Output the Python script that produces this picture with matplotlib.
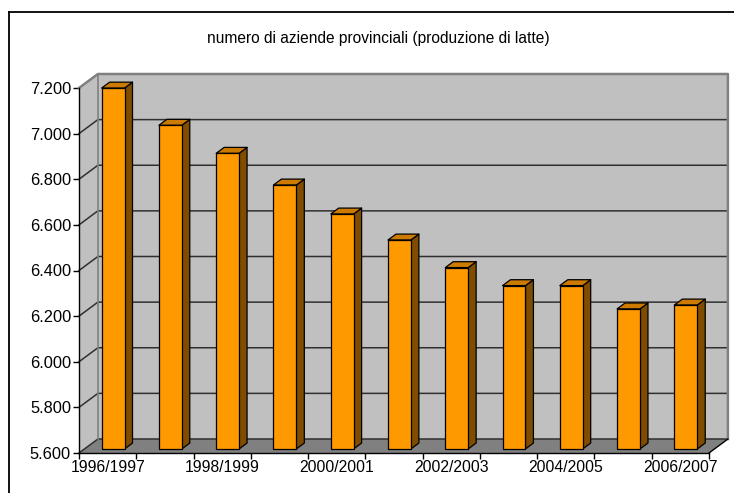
import matplotlib
matplotlib.use("Agg")
import matplotlib.pyplot as plt
from matplotlib.patches import Polygon
from matplotlib.lines import Line2D
from matplotlib.ticker import FuncFormatter

plt.rcParams['font.family'] = ['Liberation Sans', 'DejaVu Sans']

# Data: number of provincial dairy farms per season
seasons = ["1996/1997", "1997/1998", "1998/1999", "1999/2000", "2000/2001",
           "2001/2002", "2002/2003", "2003/2004", "2004/2005", "2005/2006",
           "2006/2007"]
farms = [7182, 7019, 6896, 6757, 6630, 6516, 6395, 6316, 6316, 6214, 6231]
title = "numero di aziende provinciali (produzione di latte)"

y_min, y_max, y_step = 5600, 7200, 200

fig = plt.figure(figsize=(7.34, 4.93), dpi=100)
ax = fig.add_axes([79 / 734, 40 / 493, 630 / 734, 365 / 493])
n = len(seasons)
ax.set_xlim(0, n)
ax.set_ylim(y_min, y_max)
ax.set_facecolor('none')

# Oblique depth projection, expressed in data units of the axes
DX = 0.33          # categories per unit depth
DY = 61.4          # value units per unit depth


def proj(x, y, d):
    return (x + d * DX, y + d * DY)


def poly(pts, **kw):
    p = Polygon([proj(*q) for q in pts], closed=True, clip_on=False, **kw)
    ax.add_patch(p)
    return p


def line(pts, **kw):
    xs, ys = zip(*[proj(*q) for q in pts])
    ax.add_line(Line2D(xs, ys, clip_on=False, **kw))


wall = '#C0C0C0'
floor = '#808080'
edge_grey = '#808080'

# Back wall, side wall, floor
poly([(0, y_min, 1), (n, y_min, 1), (n, y_max, 1), (0, y_max, 1)],
     facecolor=wall, edgecolor='none', zorder=1)
poly([(0, y_min, 0), (0, y_min, 1), (0, y_max, 1), (0, y_max, 0)],
     facecolor=wall, edgecolor='none', zorder=1)
poly([(0, y_min, 0), (n, y_min, 0), (n, y_min, 1), (0, y_min, 1)],
     facecolor=floor, edgecolor='none', zorder=1)

# Gridlines on back and side wall
for v in range(y_min, y_max + 1, y_step):
    if v == y_max:
        continue
    line([(0, v, 0), (0, v, 1), (n, v, 1)], color='#303030', lw=1.1, zorder=2)

# Wall outlines
line([(0, y_max, 0), (0, y_max, 1), (n, y_max, 1), (n, y_min, 1)],
     color=edge_grey, lw=1.8, zorder=2)
line([(0, y_min, 1), (0, y_max, 1)], color=edge_grey, lw=1.2, zorder=2)
line([(n, y_min, 0), (n, y_min, 1)], color='black', lw=1.0, zorder=2)

# 3D bars
hw = 0.2
d0, d1 = 0.29, 0.71
front_c, top_c, side_c = '#FF9900', '#CC7A00', '#7F4C00'
for i, v in enumerate(farms):
    c = i + 0.5
    l, r = c - hw, c + hw
    poly([(r, y_min, d0), (r, y_min, d1), (r, v, d1), (r, v, d0)],
         facecolor=side_c, edgecolor='black', lw=0.9, joinstyle='round', zorder=3)
    poly([(l, v, d0), (r, v, d0), (r, v, d1), (l, v, d1)],
         facecolor=top_c, edgecolor='black', lw=0.9, joinstyle='round', zorder=3)
    poly([(l, y_min, d0), (r, y_min, d0), (r, v, d0), (l, v, d0)],
         facecolor=front_c, edgecolor='black', lw=0.9, joinstyle='round', zorder=4)

# Axes, ticks and labels
for s in ('top', 'right'):
    ax.spines[s].set_visible(False)
for s in ('left', 'bottom'):
    ax.spines[s].set_color('black')
    ax.spines[s].set_linewidth(1.0)
    ax.spines[s].set_zorder(5)

ax.set_yticks(range(y_min, y_max + 1, y_step))
ax.yaxis.set_major_formatter(FuncFormatter(lambda v, p: f"{int(v):,}".replace(",", ".")))
ax.set_xticks(range(n + 1))
ax.set_xticklabels([])
ax.set_xticks([i + 0.5 for i in range(0, n, 2)], minor=True)
ax.set_xticklabels([seasons[i] for i in range(0, n, 2)], minor=True)
ax.tick_params(axis='y', direction='out', length=4.3, width=1.0, pad=1.5,
               labelsize=11.8, colors='black')
ax.tick_params(axis='x', which='major', direction='out', length=4.3, width=1.0)
ax.tick_params(axis='x', which='minor', length=0, pad=5, labelsize=11.3)

fig.text(378 / 734, 1 - 38 / 493, title, ha='center', va='center', fontsize=11.2)

# Chart frame
fig.add_artist(Line2D([9 / 734, 9 / 734], [0, 1 - 12 / 493], transform=fig.transFigure,
                      color='black', lw=1.3))
fig.add_artist(Line2D([9 / 734, 1], [1 - 12 / 493, 1 - 12 / 493], transform=fig.transFigure,
                      color='black', lw=1.3))

fig.savefig("out.png", dpi=100)
